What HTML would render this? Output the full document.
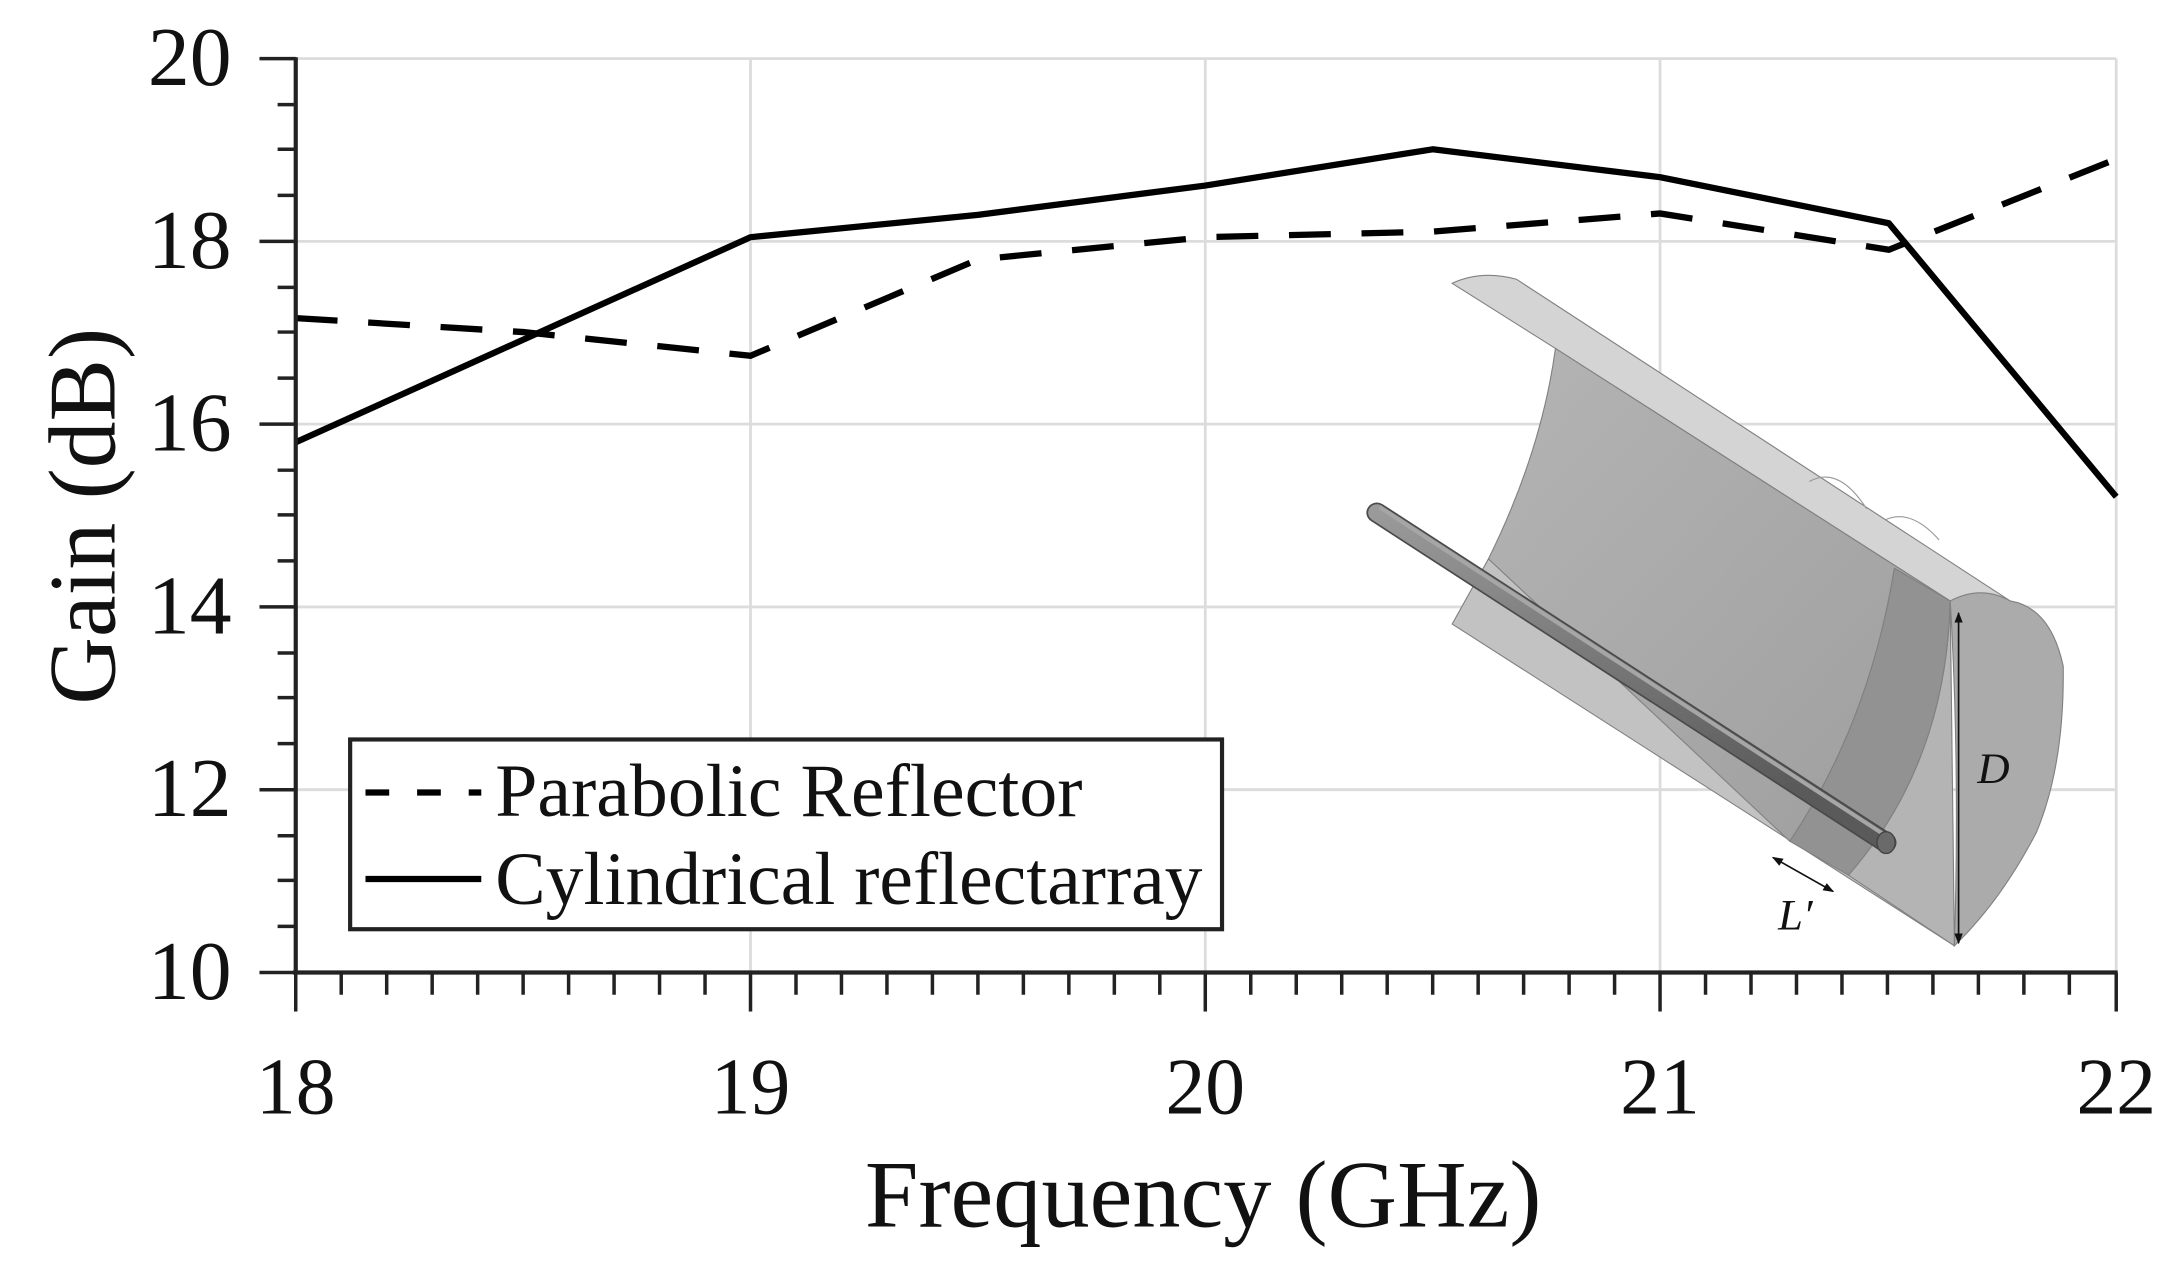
<!DOCTYPE html>
<html><head><meta charset="utf-8"><style>
html,body{margin:0;padding:0;background:#fff;}
svg{display:block;}
text{font-family:"Liberation Serif",serif;fill:#111;}
</style></head><body>
<svg width="2179" height="1285" viewBox="0 0 1562 921" preserveAspectRatio="none" xmlns="http://www.w3.org/2000/svg">
<defs>
<linearGradient id="inner" x1="0" y1="0" x2="1" y2="1">
<stop offset="0" stop-color="#b4b4b4"/><stop offset="1" stop-color="#9e9e9e"/></linearGradient>
<linearGradient id="rod" x1="0" y1="0" x2="0.5" y2="1">
<stop offset="0" stop-color="#9a9a9a"/><stop offset="0.5" stop-color="#7a7a7a"/><stop offset="1" stop-color="#5a5a5a"/></linearGradient>
<marker id="ah" markerWidth="8" markerHeight="8" refX="7" refY="4" orient="auto-start-reverse" markerUnits="userSpaceOnUse">
<path d="M0,1 L8,4 L0,7 Z" fill="#111"/></marker>
</defs>
<!-- grid -->
<g stroke="#dcdcdc" stroke-width="2">
<line x1="212" y1="173" x2="1517" y2="173"/>
<line x1="212" y1="304" x2="1517" y2="304"/>
<line x1="212" y1="435" x2="1517" y2="435"/>
<line x1="212" y1="566" x2="1517" y2="566"/>
<line x1="212" y1="42" x2="1517" y2="42"/>
<line x1="538" y1="42" x2="538" y2="697"/>
<line x1="864" y1="42" x2="864" y2="697"/>
<line x1="1190" y1="42" x2="1190" y2="697"/>
<line x1="1517" y1="42" x2="1517" y2="697"/>
</g>
<!-- inset drawing -->
<g transform="matrix(1 0 0 0.973 0 2.6)">
<g stroke="#808080" stroke-width="0.8">
<path d="M1041,206 Q1062,196 1087,203 L1441,440 L1398,440 L1115,254 Z" fill="#d4d4d4"/>
<path d="M1041,457 L1067,409 L1290,600 L1401,694 Z" fill="#c2c2c2"/>
<path d="M1115,254 L1398,440 L1358,416 Q1340,530 1283,617 L1067,409 Q1105,330 1115,254 Z" fill="url(#inner)"/>
<path d="M1398,440 Q1395,560 1325,642 L1401,694 Z" fill="#b4b4b4"/>
<path d="M1358,416 L1398,440 Q1395,560 1325,642 L1283,617 Q1340,530 1358,416 Z" fill="#929292"/>
<path d="M1297,352 Q1318,340 1338,372 M1352,380 Q1370,372 1390,395" fill="none" stroke="#999"/>
<path d="M1398,440 Q1420,428 1441,440 Q1470,445 1479,488 Q1480,560 1460,610 Q1435,660 1401,694 Q1405,560 1398,440 Z" fill="#ababab"/>
</g>
<line x1="987" y1="375" x2="1352" y2="618" stroke="#4a4a4a" stroke-width="15" stroke-linecap="round"/>
<line x1="987" y1="375" x2="1352" y2="618" stroke="url(#rod)" stroke-width="12.5" stroke-linecap="round"/>
<line x1="989" y1="371" x2="1352" y2="613" stroke="#a6a6a6" stroke-width="3"/>
<ellipse cx="1352" cy="618" rx="6.5" ry="8" fill="#6a6a6a" stroke="#444" stroke-width="1"/>
<line x1="1404" y1="449" x2="1404" y2="692" stroke="#111" stroke-width="1.2" marker-start="url(#ah)" marker-end="url(#ah)"/>
<text x="1429" y="574" font-size="32" font-style="italic" text-anchor="middle">D</text>
<line x1="1271" y1="629" x2="1314" y2="654" stroke="#111" stroke-width="1.2" marker-start="url(#ah)" marker-end="url(#ah)"/>
<text x="1287" y="682" font-size="32" font-style="italic" text-anchor="middle">L′</text>
</g>
<!-- series -->
<polyline fill="none" stroke="#000" stroke-width="4.5" stroke-linejoin="round"
points="212,317 538,170 701,154 864,133 1027,107 1190,127 1354,160 1517,356"/>
<polyline fill="none" stroke="#000" stroke-width="4.5" stroke-dasharray="30,22"
points="212,228 375,238 538,255 701,186 864,170 1027,166 1190,153 1354,179 1517,114"/>
<!-- axes -->
<g stroke="#222" stroke-width="3" fill="none">
<line x1="212" y1="41" x2="212" y2="698"/>
<line x1="210" y1="697" x2="1518" y2="697"/>
</g>
<g stroke="#222" stroke-width="2.5">
<line x1="186" y1="42" x2="212" y2="42"/><line x1="199" y1="75" x2="212" y2="75"/><line x1="199" y1="107" x2="212" y2="107"/><line x1="199" y1="140" x2="212" y2="140"/>
<line x1="186" y1="173" x2="212" y2="173"/><line x1="199" y1="206" x2="212" y2="206"/><line x1="199" y1="238" x2="212" y2="238"/><line x1="199" y1="271" x2="212" y2="271"/>
<line x1="186" y1="304" x2="212" y2="304"/><line x1="199" y1="337" x2="212" y2="337"/><line x1="199" y1="369" x2="212" y2="369"/><line x1="199" y1="402" x2="212" y2="402"/>
<line x1="186" y1="435" x2="212" y2="435"/><line x1="199" y1="468" x2="212" y2="468"/><line x1="199" y1="500" x2="212" y2="500"/><line x1="199" y1="533" x2="212" y2="533"/>
<line x1="186" y1="566" x2="212" y2="566"/><line x1="199" y1="599" x2="212" y2="599"/><line x1="199" y1="631" x2="212" y2="631"/><line x1="199" y1="664" x2="212" y2="664"/>
<line x1="186" y1="697" x2="212" y2="697"/>
</g>
<g stroke="#222" stroke-width="2.5">
<line x1="212" y1="697" x2="212" y2="725"/><line x1="538" y1="697" x2="538" y2="725"/><line x1="864" y1="697" x2="864" y2="725"/><line x1="1190" y1="697" x2="1190" y2="725"/><line x1="1517" y1="697" x2="1517" y2="725"/>
<path d="M244.6,697v16M277.2,697v16M309.8,697v16M342.4,697v16M375,697v16M407.6,697v16M440.2,697v16M472.8,697v16M505.4,697v16
M570.6,697v16M603.2,697v16M635.8,697v16M668.4,697v16M701,697v16M733.6,697v16M766.2,697v16M798.8,697v16M831.4,697v16
M896.6,697v16M929.2,697v16M961.8,697v16M994.4,697v16M1027,697v16M1059.6,697v16M1092.2,697v16M1124.8,697v16M1157.4,697v16
M1222.6,697v16M1255.2,697v16M1287.8,697v16M1320.4,697v16M1353,697v16M1385.6,697v16M1418.2,697v16M1450.8,697v16M1483.4,697v16"/>
</g>
<!-- tick labels -->
<g font-size="60" text-anchor="end">
<text x="166" y="61" textLength="60" lengthAdjust="spacingAndGlyphs">20</text>
<text x="166" y="192" textLength="60" lengthAdjust="spacingAndGlyphs">18</text>
<text x="166" y="323" textLength="60" lengthAdjust="spacingAndGlyphs">16</text>
<text x="166" y="454" textLength="60" lengthAdjust="spacingAndGlyphs">14</text>
<text x="166" y="585" textLength="60" lengthAdjust="spacingAndGlyphs">12</text>
<text x="166" y="716" textLength="60" lengthAdjust="spacingAndGlyphs">10</text>
</g>
<g font-size="58" text-anchor="middle">
<text x="212" y="798" textLength="57" lengthAdjust="spacingAndGlyphs">18</text>
<text x="538" y="798" textLength="57" lengthAdjust="spacingAndGlyphs">19</text>
<text x="864" y="798" textLength="57" lengthAdjust="spacingAndGlyphs">20</text>
<text x="1190" y="798" textLength="57" lengthAdjust="spacingAndGlyphs">21</text>
<text x="1517" y="798" textLength="57" lengthAdjust="spacingAndGlyphs">22</text>
</g>
<text x="620" y="879" font-size="68" textLength="485" lengthAdjust="spacingAndGlyphs">Frequency (GHz)</text>
<text transform="translate(82,505) rotate(-90)" font-size="68" textLength="270" lengthAdjust="spacingAndGlyphs">Gain (dB)</text>
<!-- legend -->
<rect x="251" y="530" width="625" height="136" fill="#fff" stroke="#222" stroke-width="3"/>
<line x1="262" y1="568" x2="345" y2="568" stroke="#000" stroke-width="4.5" stroke-dasharray="17,20"/>
<line x1="262" y1="630" x2="345" y2="630" stroke="#000" stroke-width="4.5"/>
<text x="355" y="585" font-size="54" textLength="421" lengthAdjust="spacingAndGlyphs">Parabolic Reflector</text>
<text x="355" y="648" font-size="54" textLength="507" lengthAdjust="spacingAndGlyphs">Cylindrical reflectarray</text>
</svg>
</body></html>
